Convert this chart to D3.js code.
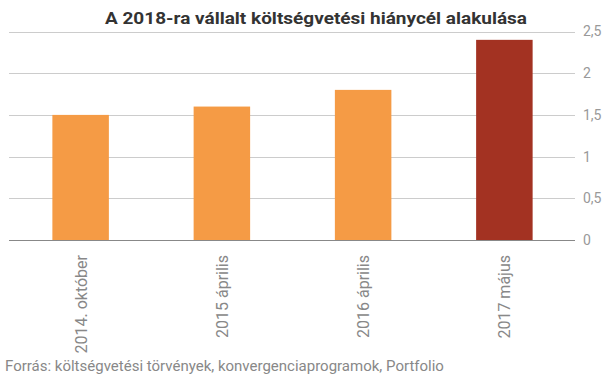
<!DOCTYPE html>
<html lang="hu">
<head>
<meta charset="UTF-8">
<script src="https://d3js.org/d3.v7.min.js"></script>
<style>
  body { margin: 0; background: #fff; }
  svg { display: block; font-family: Roboto, sans-serif; }
</style>
</head>
<body>
<script>
// data
const categories = ["2014. október", "2015 április", "2016 április", "2017 május"];
const values = [1.5, 1.6, 1.8, 2.4];
const colors = ["#f59b45", "#f59b45", "#f59b45", "#a33222"];
const yTicks = [0, 0.5, 1, 1.5, 2, 2.5];

const W = 606, H = 379;
const margin = { left: 10, right: 31, top: 31.5, bottom: 139 };

const svg = d3.select("body").append("svg")
    .attr("width", W)
    .attr("height", H);

const x = d3.scaleBand()
    .domain(categories)
    .range([margin.left, W - margin.right])
    .paddingInner(0.6)
    .paddingOuter(0.3);

const y = d3.scaleLinear()
    .domain([0, 2.5])
    .range([H - margin.bottom, margin.top]);

// gridlines
svg.append("g")
    .selectAll("line")
    .data(yTicks.filter(d => d > 0))
    .join("line")
    .attr("x1", margin.left - 1)
    .attr("x2", W - margin.right)
    .attr("y1", d => Math.round(y(d)) + 0.5)
    .attr("y2", d => Math.round(y(d)) + 0.5)
    .attr("stroke", "#cccccc");

// bars
svg.append("g")
    .selectAll("rect")
    .data(values)
    .join("rect")
    .attr("x", (d, i) => x(categories[i]))
    .attr("width", x.bandwidth())
    .attr("y", d => y(d))
    .attr("height", d => y(0) - y(d))
    .attr("fill", (d, i) => colors[i]);

// baseline
svg.append("line")
    .attr("x1", margin.left - 1)
    .attr("x2", W - margin.right)
    .attr("y1", Math.round(y(0)) + 0.5)
    .attr("y2", Math.round(y(0)) + 0.5)
    .attr("stroke", "#888888");

// right axis labels
const yAxis = d3.axisRight(y)
    .tickValues(yTicks)
    .tickSize(0)
    .tickPadding(0)
    .tickFormat(d => String(d).replace(".", ","));

svg.append("g")
    .attr("transform", `translate(${W - margin.right + 8},0)`)
    .call(yAxis)
    .call(g => g.select(".domain").remove())
    .call(g => g.selectAll("text")
        .attr("fill", "#999999")
        .style("font-size", "14px")
        .style("font-family", "Roboto, sans-serif"));

// category labels, rotated
svg.append("g")
    .selectAll("text")
    .data(categories)
    .join("text")
    .attr("transform", d => `translate(${x(d) + x.bandwidth() / 2 + 6},255) rotate(-90)`)
    .attr("text-anchor", "end")
    .attr("fill", "#888888")
    .style("font-size", "16px")
    .text(d => d);

// title
svg.append("text")
    .attr("x", 316)
    .attr("y", 24)
    .attr("text-anchor", "middle")
    .attr("fill", "#333333")
    .attr("textLength", 422)
    .attr("lengthAdjust", "spacingAndGlyphs")
    .style("font-size", "17px")
    .style("font-weight", "bold")
    .text("A 2018-ra vállalt költségvetési hiánycél alakulása");

// source
svg.append("text")
    .attr("x", 5)
    .attr("y", 371)
    .attr("fill", "#888888")
    .style("font-size", "15px")
    .text("Forrás: költségvetési törvények, konvergenciaprogramok, Portfolio");
</script>
</body>
</html>
